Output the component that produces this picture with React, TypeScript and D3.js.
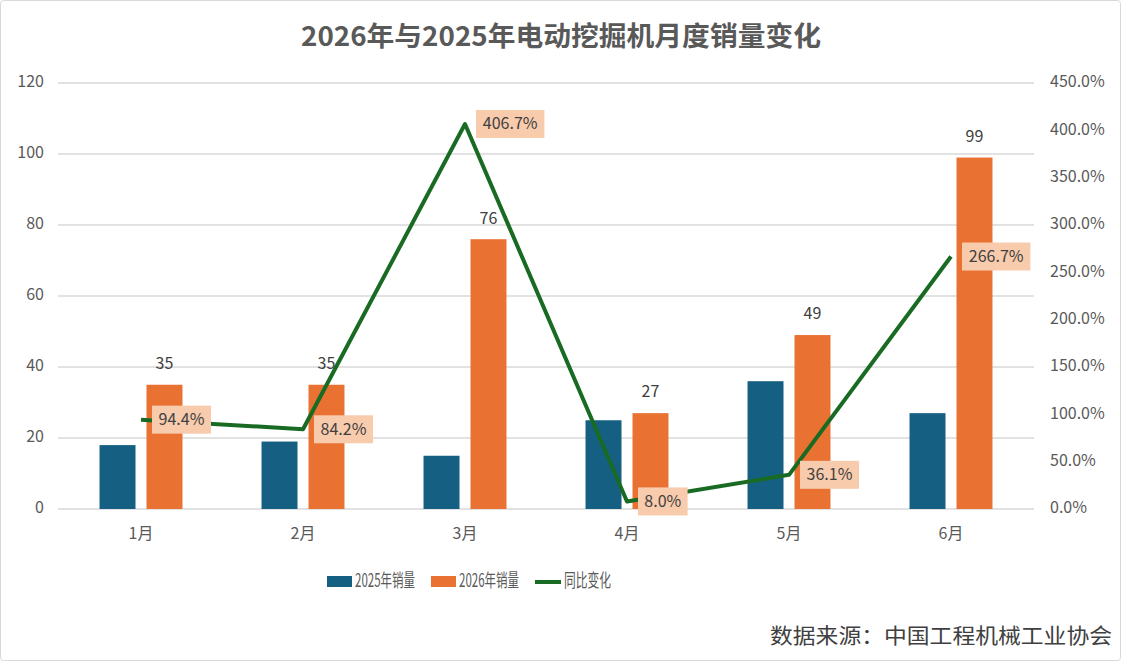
import * as d3 from "d3";

const months = ["1月", "2月", "3月", "4月", "5月", "6月"];
const sales2025 = [18, 19, 15, 25, 36, 27];
const sales2026 = [35, 35, 76, 27, 49, 99];
const yoy = [94.4, 84.2, 406.7, 8.0, 36.1, 266.7];
const leftTicks = [0, 20, 40, 60, 80, 100, 120];
const rightTicks = [0, 50, 100, 150, 200, 250, 300, 350, 400, 450];
const seriesNames = ["2025年销量", "2026年销量", "同比变化"];

const W = 1124;
const H = 665;
const PLOT = { left: 60, right: 1032, top: 83, bottom: 509 };
const BLUE = "#156082";
const ORANGE = "#E97132";
const GREEN = "#196B24";
const FONT = "'Noto Sans CJK SC', 'Noto Sans', sans-serif";
const TXT = "#595959";

export default function App() {
  const x = d3.scaleBand<string>().domain(months).range([PLOT.left, PLOT.right]).paddingInner(0.488).paddingOuter(0.244);
  const xInner = d3.scaleBand<number>().domain([0, 1]).range([0, x.bandwidth()]).paddingInner(0.234);
  const y = d3.scaleLinear().domain([0, 120]).range([PLOT.bottom, PLOT.top]);
  const yR = d3.scaleLinear().domain([0, 450]).range([PLOT.bottom, PLOT.top]);
  const cx = (m: string) => (x(m) as number) + x.bandwidth() / 2;

  const line = d3
    .line<number>()
    .x((_, i) => cx(months[i]))
    .y((d) => yR(d));

  return (
    <svg width={W} height={H} style={{ position: "absolute", left: 0, top: 0, background: "#fff" }} fontFamily={FONT}>
      <rect x={0.5} y={0.5} width={W - 4} height={H - 5} fill="#fff" stroke="#D9D9D9" rx={3} />
      <text x={561} y={39} textAnchor="middle" dominantBaseline="middle" fontSize={27} fontWeight={700} fill={TXT} textLength={520} lengthAdjust="spacingAndGlyphs">
        2026年与2025年电动挖掘机月度销量变化
      </text>

      {leftTicks.map((t) => (
        <g key={"l" + t}>
          <line x1={PLOT.left - 2} x2={PLOT.right + 2} y1={y(t)} y2={y(t)} stroke="#D9D9D9" strokeWidth={1.5} />
          <text x={44} y={y(t)} textAnchor="end" dominantBaseline="middle" fontSize={16} fill={TXT}>
            {t}
          </text>
        </g>
      ))}
      {rightTicks.map((t) => (
        <text key={"r" + t} x={1050} y={yR(t)} dominantBaseline="middle" fontSize={16} fill={TXT}>
          {t.toFixed(1)}%
        </text>
      ))}
      {months.map((m) => (
        <text key={"x" + m} x={cx(m)} y={535} textAnchor="middle" dominantBaseline="middle" fontSize={16} fill={TXT}>
          {m}
        </text>
      ))}

      {months.map((m, i) => {
        const x0 = x(m) as number;
        return (
          <g key={"b" + m}>
            <rect x={x0 + (xInner(0) as number)} y={y(sales2025[i])} width={xInner.bandwidth()} height={y(0) - y(sales2025[i])} fill={BLUE} />
            <rect x={x0 + (xInner(1) as number)} y={y(sales2026[i])} width={xInner.bandwidth()} height={y(0) - y(sales2026[i])} fill={ORANGE} />
            <text
              x={x0 + (xInner(1) as number) + xInner.bandwidth() / 2}
              y={y(sales2026[i]) - 20}
              textAnchor="middle"
              dominantBaseline="middle"
              fontSize={16}
              fill="#404040"
            >
              {sales2026[i]}
            </text>
          </g>
        );
      })}

      <path d={line(yoy) as string} fill="none" stroke={GREEN} strokeWidth={4} strokeLinejoin="round" />

      {months.map((m, i) => {
        const px = cx(m);
        const py = yR(yoy[i]);
        const label = yoy[i].toFixed(1) + "%";
        const bw = label.length * 9.4 + 12;
        return (
          <g key={"p" + m}>
            <rect x={px + 11} y={py - 14} width={bw} height={28} fill="#F8CBAD" />
            <text x={px + 11 + bw / 2} y={py + 1} textAnchor="middle" dominantBaseline="middle" fontSize={16} fill="#404040">
              {label}
            </text>
          </g>
        );
      })}

      <g fontSize={18} fill={TXT}>
        <rect x={327} y={576} width={25} height={11} fill={BLUE} />
        <text x={355} y={582} dominantBaseline="middle" textLength={60} lengthAdjust="spacingAndGlyphs">{seriesNames[0]}</text>
        <rect x={431} y={576} width={25} height={11} fill={ORANGE} />
        <text x={459} y={582} dominantBaseline="middle" textLength={60} lengthAdjust="spacingAndGlyphs">{seriesNames[1]}</text>
        <line x1={535} x2={561} y1={582} y2={582} stroke={GREEN} strokeWidth={4} />
        <text x={564} y={582} dominantBaseline="middle" textLength={47} lengthAdjust="spacingAndGlyphs">{seriesNames[2]}</text>
      </g>

      <text x={1112} y={637} textAnchor="end" dominantBaseline="middle" fontSize={21} fill="#404040" textLength={342} lengthAdjust="spacingAndGlyphs">
        数据来源：中国工程机械工业协会
      </text>
    </svg>
  );
}
